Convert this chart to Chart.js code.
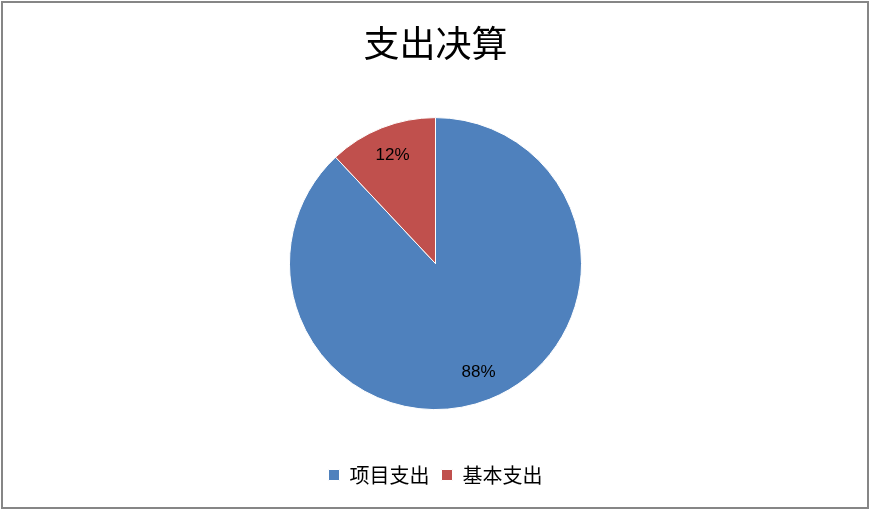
<!DOCTYPE html>
<html>
<head>
<meta charset="utf-8">
<script src="https://cdn.jsdelivr.net/npm/chart.js@4.4.1/dist/chart.umd.min.js"></script>
<style>
  html, body { margin: 0; padding: 0; background: #fff; }
  #wrap { width: 871px; height: 511px; position: relative; }
</style>
</head>
<body>
<div id="wrap"><canvas id="myChart" width="871" height="511"></canvas></div>
<script>
const categories = ['项目支出', '基本支出'];
const shares = [88, 12];
const sliceColors = ['#4F81BD', '#C0504D'];
const chartTitle = '支出决算';

// outer frame of the chart
const framePlugin = {
  id: 'frame',
  beforeDraw(chart) {
    const ctx = chart.ctx;
    ctx.save();
    ctx.fillStyle = '#fff';
    ctx.fillRect(0, 0, chart.width, chart.height);
    ctx.strokeStyle = '#868686';
    ctx.lineWidth = 2;
    ctx.strokeRect(2, 2, chart.width - 5, chart.height - 5);
    ctx.restore();
  }
};

// percent labels inside the slices
const pctPlugin = {
  id: 'pct',
  afterDatasetsDraw(chart) {
    const ctx = chart.ctx;
    const meta = chart.getDatasetMeta(0);
    const total = shares.reduce((a, b) => a + b, 0);
    ctx.save();
    ctx.font = '17px "Liberation Sans", "Noto Sans", sans-serif';
    ctx.fillStyle = '#000';
    ctx.textAlign = 'center';
    ctx.textBaseline = 'middle';
    meta.data.forEach((arc, i) => {
      const p = arc.getProps(['x', 'y', 'startAngle', 'endAngle', 'outerRadius'], true);
      const mid = (p.startAngle + p.endAngle) / 2;
      const r = p.outerRadius * 0.8;
      const pct = Math.round(shares[i] / total * 100) + '%';
      ctx.fillText(pct, p.x + Math.cos(mid) * r, p.y + Math.sin(mid) * r);
    });
    ctx.restore();
  }
};

new Chart(document.getElementById('myChart'), {
  type: 'pie',
  data: {
    labels: categories,
    datasets: [{
      data: shares,
      backgroundColor: sliceColors,
      borderColor: '#fff',
      borderWidth: 1
    }]
  },
  options: {
    responsive: false,
    animation: false,
    radius: 146,
    layout: { padding: { top: 0, bottom: 16, left: 0, right: 0 } },
    plugins: {
      title: {
        display: true,
        text: chartTitle,
        color: '#000',
        font: { family: '"Noto Sans CJK SC", sans-serif', size: 36, weight: 'normal', lineHeight: 1.2 },
        padding: { top: 22, bottom: 9 }
      },
      legend: {
        position: 'bottom',
        labels: {
          color: '#000',
          boxWidth: 11,
          boxHeight: 11,
          padding: 12,
          font: { family: '"Noto Sans CJK SC", sans-serif', size: 20 }
        }
      },
      tooltip: { enabled: false }
    }
  },
  plugins: [framePlugin, pctPlugin]
});
</script>
</body>
</html>
